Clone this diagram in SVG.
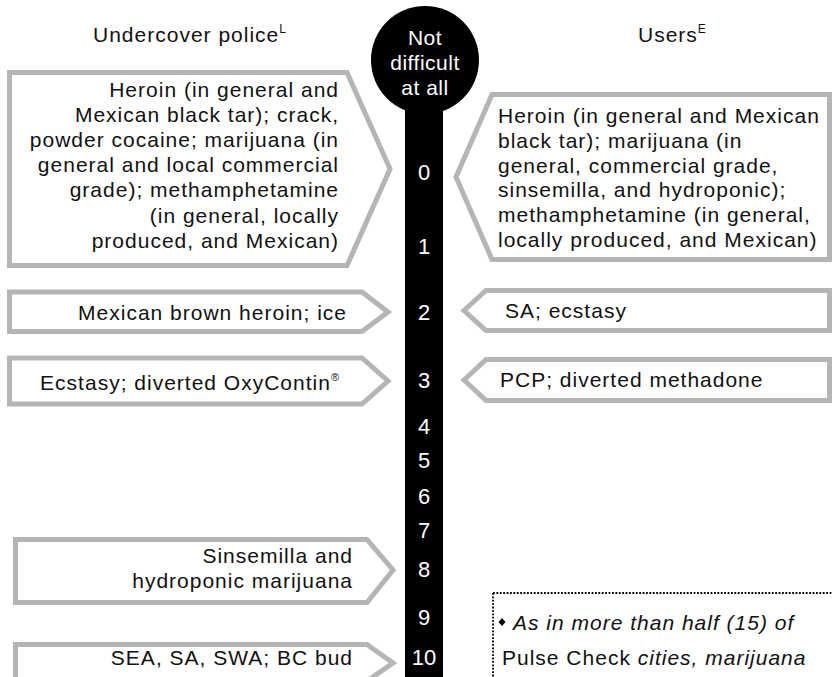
<svg xmlns="http://www.w3.org/2000/svg" width="833" height="677" viewBox="0 0 833 677">
<style>
.t{font-family:"Liberation Sans",Arial,sans-serif;font-size:21px;letter-spacing:1px;fill:#111}
.e{text-anchor:end}
.box{fill:#fff;stroke:#b5b5b5;stroke-width:5;stroke-linejoin:miter}
.n{font-family:"Liberation Sans",Arial,sans-serif;font-size:22px;fill:#fff;text-anchor:middle}
.c{font-family:"Liberation Sans",Arial,sans-serif;font-size:21px;letter-spacing:0.5px;fill:#fff;text-anchor:middle}
.i{font-style:italic}
</style>
<rect width="833" height="677" fill="#fff"/>

<g id="headers">
<text class="t" x="93" y="42">Undercover police<tspan dy="-9" font-size="12" letter-spacing="0">L</tspan></text>
<text class="t" x="638" y="42">Users<tspan dy="-9" font-size="12" letter-spacing="0">E</tspan></text>
</g>

<g id="scale">
<circle cx="425" cy="60" r="54" fill="#000"/>
<rect x="405" y="100" width="38" height="577" fill="#000"/>
<text class="c" x="425" y="45">Not</text>
<text class="c" x="425" y="70">difficult</text>
<text class="c" x="425" y="95">at all</text>
<text class="n" x="424" y="180">0</text>
<text class="n" x="424" y="254">1</text>
<text class="n" x="424" y="320">2</text>
<text class="n" x="424" y="388">3</text>
<text class="n" x="424" y="434">4</text>
<text class="n" x="424" y="468">5</text>
<text class="n" x="424" y="504">6</text>
<text class="n" x="424" y="538">7</text>
<text class="n" x="424" y="577">8</text>
<text class="n" x="424" y="625">9</text>
<text class="n" x="424" y="665">10</text>
</g>

<g id="connectors"></g>

<g id="police-0">
<path class="box" d="M9.5,72.5 H347 L390,169 L347,265.5 H9.5 Z"/>
<text class="t e" y="97"><tspan x="339">Heroin (in general and</tspan><tspan x="339" dy="25.1">Mexican black tar); crack,</tspan><tspan x="339" dy="25.1">powder cocaine; marijuana (in</tspan><tspan x="339" dy="25.1">general and local commercial</tspan><tspan x="339" dy="25.1">grade); methamphetamine</tspan><tspan x="339" dy="25.1">(in general, locally</tspan><tspan x="339" dy="25.1">produced, and Mexican)</tspan></text>
</g>

<g id="police-2">
<path class="box" d="M9.5,292 H362 L388,312 L362,331.5 H9.5 Z"/>
<text class="t e" x="347" y="320">Mexican brown heroin; ice</text>
</g>

<g id="police-3">
<path class="box" d="M9.5,358 H362 L388,381 L362,404 H9.5 Z"/>
<text class="t e" x="339" y="390">Ecstasy; diverted OxyContin<tspan dy="-9" font-size="11" letter-spacing="0">®</tspan></text>
</g>

<g id="police-8">
<path class="box" d="M15.5,539.5 H367 L393,570 L367,602.5 H15.5 Z"/>
<text class="t e" y="563"><tspan x="353">Sinsemilla and</tspan><tspan x="353" dy="25">hydroponic marijuana</tspan></text>
</g>

<g id="police-10">
<path class="box" d="M15.5,644.5 H367 L393,663 L367,681 H15.5 Z"/>
<text class="t e" x="353" y="665">SEA, SA, SWA; BC bud</text>
</g>

<g id="users-0">
<path class="box" d="M492,94.5 H829.5 V259.5 H492 L456,177 Z"/>
<text class="t" y="123"><tspan x="498">Heroin (in general and Mexican</tspan><tspan x="498" dy="24.8">black tar); marijuana (in</tspan><tspan x="498" dy="24.8">general, commercial grade,</tspan><tspan x="498" dy="24.8">sinsemilla, and hydroponic);</tspan><tspan x="498" dy="24.8">methamphetamine (in general,</tspan><tspan x="498" dy="24.8">locally produced, and Mexican)</tspan></text>
</g>

<g id="users-2">
<path class="box" d="M486,290.5 H829.5 V330.5 H486 L464,310.5 Z"/>
<text class="t" x="505" y="318">SA; ecstasy</text>
</g>

<g id="users-3">
<path class="box" d="M486,359.5 H829.5 V400.5 H486 L464,380 Z"/>
<text class="t" x="500" y="387">PCP; diverted methadone</text>
</g>

<g id="note">
<path d="M493,593 H833 M493,593 V677" fill="none" stroke="#000" stroke-width="1.8" stroke-dasharray="1.8 1.6"/>
<path d="M502,618 L505.5,622 L502,626 L498.5,622 Z" fill="#000"/>
<text class="t" x="513" y="630"><tspan class="i">As in more than half (15) of</tspan></text>
<text class="t" x="502" y="665">Pulse Check <tspan class="i">cities, marijuana</tspan></text>
</g>
</svg>
